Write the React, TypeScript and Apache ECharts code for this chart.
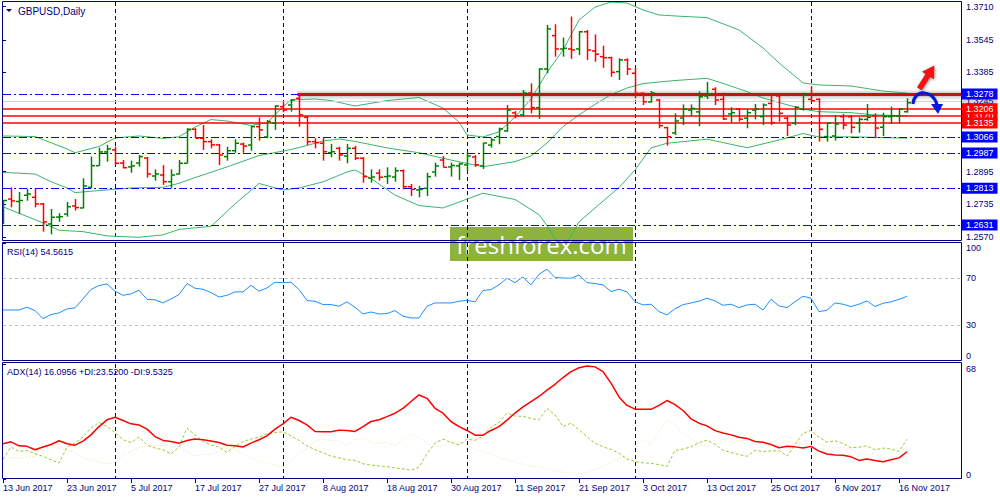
import React, { useEffect, useRef } from "react";
import * as echarts from "echarts";

const NAVY = "#000080";
const FONT = "Liberation Sans";
const X_MAX = 119.75;
const UP = "#008000";
const DOWN = "#FF0000";

// Date tick labels (every 8 trading days, starting at bar 0)
const tickLabels = [
  "13 Jun 2017", "23 Jun 2017", "5 Jul 2017", "17 Jul 2017", "27 Jul 2017",
  "8 Aug 2017", "18 Aug 2017", "30 Aug 2017", "11 Sep 2017", "21 Sep 2017",
  "3 Oct 2017", "13 Oct 2017", "25 Oct 2017", "6 Nov 2017", "16 Nov 2017",
];
const tickEvery = 8;
// first bar of each month (Jul, Aug, Sep, Oct, Nov)
const monthStarts = [14, 35, 58, 79, 101];

const priceTicks = [1.371, 1.3545, 1.3385, 1.2895, 1.2735, 1.257];
const priceMin = 1.25567;
const priceMax = 1.37332;
const blueLevels = [1.3278, 1.3066, 1.2987, 1.2813, 1.2631];
const redLevels = [1.317, 1.3206, 1.3135];
const greyLevel = 1.3245;
const resistance = 1.3278;
const resistanceStart = 36.8;
const rsiLevels = [30, 70];
const rsiTicks = [0, 30, 70, 100];
const adxTicks = [0, 68];

// OHLC: [open, high, low, close]
const ohlc = [
  [1.2695, 1.2755, 1.2636, 1.2752], [1.2759, 1.2817, 1.2718, 1.2750], [1.2747, 1.2794, 1.2685, 1.2752],
  [1.2778, 1.2810, 1.2751, 1.2784], [1.2768, 1.2812, 1.2718, 1.2735], [1.2735, 1.2740, 1.2598, 1.2646],
  [1.2636, 1.2710, 1.2585, 1.2669], [1.2670, 1.2689, 1.2647, 1.2672], [1.2685, 1.2745, 1.2672, 1.2721],
  [1.2725, 1.2759, 1.2702, 1.2717], [1.2715, 1.2862, 1.2714, 1.2824], [1.2817, 1.2969, 1.2812, 1.2924],
  [1.2924, 1.3013, 1.2924, 1.2992], [1.2992, 1.3027, 1.2944, 1.3007], [1.3002, 1.3018, 1.2927, 1.2936],
  [1.2937, 1.2952, 1.2911, 1.2914], [1.2918, 1.2949, 1.2889, 1.2923], [1.2937, 1.2977, 1.2919, 1.2969],
  [1.2962, 1.2967, 1.2865, 1.2883], [1.2873, 1.2906, 1.2850, 1.2883], [1.2878, 1.2927, 1.2829, 1.2845],
  [1.2845, 1.2906, 1.2812, 1.2878], [1.2883, 1.2952, 1.2881, 1.2936], [1.2936, 1.3109, 1.2936, 1.3104],
  [1.3104, 1.3109, 1.3060, 1.3060], [1.3060, 1.3125, 1.3002, 1.3043], [1.3043, 1.3055, 1.3010, 1.3027],
  [1.3027, 1.3030, 1.2927, 1.2977], [1.2969, 1.3018, 1.2949, 1.2998], [1.2998, 1.3055, 1.2988, 1.3035],
  [1.3031, 1.3038, 1.2988, 1.3021], [1.3026, 1.3120, 1.2998, 1.3117], [1.3117, 1.3163, 1.3048, 1.3101],
  [1.3066, 1.3150, 1.3060, 1.3142], [1.3134, 1.3224, 1.3101, 1.3219], [1.3216, 1.3240, 1.3188, 1.3199],
  [1.3224, 1.3252, 1.3191, 1.3249], [1.3257, 1.3269, 1.3117, 1.3175], [1.3163, 1.3170, 1.3026, 1.3043],
  [1.3043, 1.3060, 1.3010, 1.3038], [1.3035, 1.3060, 1.2949, 1.2993], [1.2988, 1.3031, 1.2966, 1.2993],
  [1.3010, 1.3018, 1.2949, 1.2977], [1.2972, 1.3031, 1.2936, 1.3010], [1.3010, 1.3022, 1.2952, 1.2961],
  [1.2961, 1.2966, 1.2840, 1.2870], [1.2863, 1.2906, 1.2840, 1.2868], [1.2887, 1.2906, 1.2850, 1.2867],
  [1.2870, 1.2916, 1.2834, 1.2873], [1.2868, 1.2916, 1.2845, 1.2899], [1.2899, 1.2906, 1.2807, 1.2820],
  [1.2820, 1.2834, 1.2774, 1.2807], [1.2804, 1.2824, 1.2768, 1.2807], [1.2812, 1.2889, 1.2774, 1.2870],
  [1.2893, 1.2939, 1.2870, 1.2923], [1.2952, 1.2972, 1.2916, 1.2916], [1.2918, 1.2939, 1.2870, 1.2925],
  [1.2923, 1.2939, 1.2853, 1.2933], [1.2928, 1.2993, 1.2899, 1.2972], [1.2967, 1.2977, 1.2918, 1.2928],
  [1.2923, 1.3038, 1.2908, 1.3036], [1.3026, 1.3062, 1.3013, 1.3051], [1.3068, 1.3112, 1.3030, 1.3106],
  [1.3096, 1.3224, 1.3092, 1.3199], [1.3185, 1.3194, 1.3158, 1.3171], [1.3175, 1.3298, 1.3166, 1.3283],
  [1.3283, 1.3331, 1.3183, 1.3211], [1.3211, 1.3406, 1.3155, 1.3402], [1.3402, 1.3620, 1.3381, 1.3600],
  [1.3567, 1.3623, 1.3463, 1.3501], [1.3501, 1.3557, 1.3463, 1.3504], [1.3501, 1.3661, 1.3452, 1.3496],
  [1.3501, 1.3590, 1.3471, 1.3586], [1.3586, 1.3595, 1.3447, 1.3496], [1.3491, 1.3573, 1.3438, 1.3475],
  [1.3463, 1.3517, 1.3408, 1.3458], [1.3458, 1.3463, 1.3364, 1.3386], [1.3389, 1.3455, 1.3348, 1.3447],
  [1.3447, 1.3455, 1.3372, 1.3402], [1.3381, 1.3406, 1.3257, 1.3282], [1.3282, 1.3287, 1.3224, 1.3240],
  [1.3239, 1.3293, 1.3237, 1.3283], [1.3249, 1.3254, 1.3109, 1.3122], [1.3112, 1.3117, 1.3023, 1.3067],
  [1.3086, 1.3183, 1.3076, 1.3145], [1.3160, 1.3227, 1.3125, 1.3204], [1.3199, 1.3227, 1.3171, 1.3207],
  [1.3190, 1.3291, 1.3119, 1.3265], [1.3269, 1.3338, 1.3254, 1.3279], [1.3302, 1.3312, 1.3224, 1.3249],
  [1.3252, 1.3285, 1.3150, 1.3155], [1.3180, 1.3213, 1.3137, 1.3186], [1.3203, 1.3208, 1.3142, 1.3154],
  [1.3159, 1.3203, 1.3109, 1.3186], [1.3199, 1.3229, 1.3153, 1.3203], [1.3166, 1.3232, 1.3125, 1.3224],
  [1.3232, 1.3273, 1.3125, 1.3137], [1.3269, 1.3273, 1.3142, 1.3183], [1.3159, 1.3166, 1.3071, 1.3125],
  [1.3134, 1.3219, 1.3125, 1.3213], [1.3203, 1.3285, 1.3196, 1.3273], [1.3252, 1.3318, 1.3240, 1.3245],
  [1.3252, 1.3257, 1.3043, 1.3104], [1.3068, 1.3137, 1.3043, 1.3134], [1.3071, 1.3175, 1.3048, 1.3130],
  [1.3166, 1.3180, 1.3104, 1.3125], [1.3166, 1.3175, 1.3084, 1.3114], [1.3134, 1.3163, 1.3087, 1.3153],
  [1.3153, 1.3229, 1.3146, 1.3163], [1.3170, 1.3183, 1.3060, 1.3110], [1.3114, 1.3186, 1.3071, 1.3166],
  [1.3166, 1.3216, 1.3130, 1.3170], [1.3170, 1.3208, 1.3134, 1.3203], [1.3191, 1.3257, 1.3186, 1.3235],
];

// Bollinger bands: [bar index, price]
const bbUpper = [
  [0, 1.3071], [4, 1.3068], [8, 1.3007], [9, 1.2988], [12, 1.3019], [14, 1.3061], [17, 1.3071],
  [20, 1.3059], [22, 1.3067], [24, 1.3115], [26, 1.3152], [28, 1.3145], [31, 1.3123], [33, 1.3135],
  [35, 1.3216], [36, 1.3249], [39, 1.3254], [41, 1.3246], [44, 1.3219], [48, 1.3246], [52, 1.3261],
  [55, 1.3209], [57, 1.3140], [58, 1.3076], [60, 1.3066], [62, 1.3091], [64, 1.3165], [66, 1.3254],
  [68, 1.3385], [70, 1.3496], [72, 1.3644], [74, 1.3708], [76, 1.3733], [78, 1.3728], [80, 1.3694],
  [82, 1.3669], [85, 1.3662], [88, 1.3656], [92, 1.3595], [95, 1.3506], [97, 1.3432], [100, 1.3333],
  [102, 1.3323], [106, 1.3318], [110, 1.3293], [113, 1.3283],
];
const bbMiddle = [
  [0, 1.2891], [4, 1.2883], [6, 1.2845], [8, 1.2814], [9, 1.2791], [12, 1.2801], [16, 1.2814],
  [20, 1.2817], [22, 1.2837], [24, 1.2865], [28, 1.2918], [32, 1.2974], [36, 1.3004], [38, 1.3024],
  [40, 1.3046], [42, 1.3056], [44, 1.3044], [48, 1.3012], [52, 1.2988], [56, 1.2952], [60, 1.2919],
  [64, 1.2944], [66, 1.2972], [68, 1.3036], [70, 1.3117], [72, 1.3175], [74, 1.3227], [76, 1.3276],
  [78, 1.3308], [80, 1.3330], [84, 1.3345], [88, 1.3356], [90, 1.3331], [93, 1.3290], [95, 1.3259],
  [100, 1.3203], [102, 1.3191], [106, 1.3186], [109, 1.3175], [113, 1.3170],
];
const bbLower = [
  [0, 1.2721], [3, 1.2673], [5, 1.2641], [7, 1.2605], [10, 1.2598], [13, 1.2577], [17, 1.2570],
  [20, 1.2582], [22, 1.2609], [26, 1.2624], [29, 1.2735], [32, 1.2836], [35, 1.2804], [37, 1.2814],
  [40, 1.2844], [43, 1.2893], [44, 1.2903], [46, 1.2861], [49, 1.2779], [52, 1.2727], [55, 1.2715],
  [58, 1.2759], [60, 1.2788], [64, 1.2757], [67, 1.2682], [68, 1.2628], [70, 1.2507], [72, 1.2646],
  [74, 1.2715], [77, 1.2816], [79, 1.2903], [81, 1.3012], [83, 1.3035], [88, 1.3055], [93, 1.3013],
  [97, 1.3051], [100, 1.3083], [102, 1.3066], [106, 1.3067], [113, 1.3060],
];

const rsi = [
  43.0, 43.0, 43.0, 45.3, 42.5, 35.7, 39.1, 40.5, 43.9, 44.8,
  52.5, 60.5, 63.8, 65.2, 58.9, 55.5, 56.7, 59.8, 52.1, 51.6,
  49.0, 52.4, 56.1, 65.5, 61.5, 60.6, 57.8, 54.0, 55.5, 58.4,
  58.4, 64.0, 58.9, 61.8, 66.6, 66.2, 66.6, 60.4, 51.0, 50.4,
  47.6, 47.6, 46.2, 49.9, 45.3, 39.6, 41.3, 39.6, 39.9, 42.5,
  37.7, 36.2, 36.2, 46.2, 49.0, 49.0, 49.0, 50.4, 51.3, 49.9,
  59.5, 60.4, 64.5, 70.0, 66.3, 71.1, 64.3, 73.4, 77.7, 70.6,
  70.2, 70.0, 72.8, 66.3, 65.5, 64.3, 58.7, 60.6, 58.4, 50.1,
  47.3, 47.9, 41.6, 38.8, 44.0, 47.5, 49.0, 50.5, 53.0, 50.7,
  47.0, 47.9, 45.0, 47.3, 47.9, 43.0, 52.1, 46.5, 45.0, 50.1,
  54.7, 53.0, 41.6, 42.8, 49.0, 47.9, 45.9, 47.9, 50.7, 45.9,
  48.7, 49.9, 52.1, 54.56,
];
const adx = [
  20.8, 22.0, 19.6, 19.3, 17.3, 18.9, 20.4, 22.6, 20.8, 20.0,
  22.4, 26.1, 31.0, 35.0, 36.5, 34.6, 32.6, 32.0, 29.5, 25.1,
  22.8, 22.2, 21.2, 22.8, 23.6, 23.2, 22.5, 21.6, 20.0, 19.6,
  18.9, 21.2, 23.2, 25.5, 29.5, 32.6, 36.5, 34.6, 32.0, 28.1,
  27.9, 27.9, 28.9, 28.7, 28.1, 31.0, 34.0, 35.0, 36.9, 38.9,
  41.8, 45.8, 49.7, 47.7, 41.8, 38.9, 34.0, 31.0, 28.7, 25.9,
  25.9, 28.7, 31.0, 34.8, 39.0, 42.6, 45.8, 48.8, 52.5, 56.0,
  60.0, 63.5, 65.8, 66.8, 66.3, 63.5, 56.7, 48.5, 43.5, 41.3,
  41.3, 41.2, 43.5, 46.4, 44.0, 40.5, 35.6, 33.0, 31.4, 28.6,
  27.2, 26.1, 24.7, 24.0, 22.2, 21.7, 20.4, 18.5, 19.4, 19.0,
  18.3, 19.3, 16.5, 14.8, 14.2, 14.1, 13.1, 11.0, 11.8, 11.0,
  10.2, 11.4, 12.5, 16.1,
];
const plusDI = [
  11.8, 18.9, 16.3, 16.9, 14.9, 13.4, 11.4, 9.4, 18.9, 21.2,
  24.8, 30.1, 33.4, 31.0, 27.5, 23.2, 21.6, 24.8, 20.2, 18.3,
  17.3, 14.9, 18.9, 30.1, 26.1, 22.2, 20.2, 18.9, 15.7, 19.3,
  22.2, 23.6, 24.8, 26.7, 27.5, 27.9, 25.5, 22.8, 19.6, 17.3,
  15.5, 13.5, 12.5, 11.4, 11.0, 9.0, 8.2, 7.7, 7.3, 6.5,
  6.0, 5.2, 7.0, 15.0, 21.2, 23.6, 21.6, 20.2, 23.6, 22.8,
  25.5, 30.5, 33.5, 38.9, 37.2, 37.0, 35.8, 35.0, 41.8, 37.9,
  31.0, 33.0, 29.1, 25.0, 21.2, 19.0, 17.5, 15.3, 11.8, 10.4,
  9.6, 9.2, 8.5, 7.5, 16.9, 17.7, 19.0, 21.5, 23.0, 20.5,
  17.0, 15.7, 14.5, 13.4, 16.9, 16.3, 16.6, 16.9, 13.5, 20.2,
  27.1, 28.7, 24.8, 21.8, 22.6, 21.0, 18.5, 18.8, 19.6, 17.2,
  18.3, 17.7, 16.3, 23.52,
];
const minusDI = [
  11.4, 13.0, 11.8, 13.0, 13.4, 21.0, 20.5, 17.9, 17.2, 15.5,
  12.6, 11.0, 9.9, 8.8, 9.8, 14.3, 16.2, 18.9, 19.4, 19.8,
  19.8, 19.4, 19.0, 16.0, 13.4, 14.6, 14.5, 16.6, 18.4, 17.3,
  14.8, 12.5, 10.5, 9.4, 8.1, 7.0, 10.0, 15.0, 17.8, 22.6,
  23.5, 22.8, 22.8, 19.5, 23.5, 23.9, 21.8, 21.0, 21.6, 19.5,
  23.2, 26.4, 24.5, 21.0, 19.0, 19.5, 22.5, 21.8, 20.3, 17.8,
  16.1, 14.8, 12.5, 11.5, 9.9, 8.8, 7.9, 7.0, 6.0, 4.8,
  4.0, 3.7, 3.1, 4.0, 5.5, 7.5, 10.0, 12.4, 13.5, 18.5,
  23.2, 20.5, 28.0, 35.0, 32.0, 27.0, 23.8, 21.0, 19.3, 19.3,
  23.5, 21.5, 22.6, 23.0, 20.8, 21.6, 22.0, 24.0, 25.5, 23.2,
  20.5, 23.0, 20.8, 19.4, 18.4, 18.8, 17.7, 15.0, 14.3, 15.5,
  13.8, 12.0, 10.8, 9.53,
];

const symbolName = "GBPUSD,Daily";
const rsiTitle = "RSI(14) 54.5615";
const adxTitle = "ADX(14) 16.0956 +DI:23.5200 -DI:9.5325";
const watermark = "freshforex.com";

function vLines(g: number) {
  return {
    type: "custom",
    xAxisIndex: g,
    yAxisIndex: g,
    silent: true,
    z: 1,
    data: monthStarts.map((m) => [m, 0]),
    renderItem: (params: any, api: any) => {
      const cs = params.coordSys;
      const x = Math.round(api.coord([api.value(0), api.value(1)])[0]) + 0.5;
      return {
        type: "line",
        shape: { x1: x, y1: cs.y, x2: x, y2: cs.y + cs.height },
        style: { stroke: NAVY, lineWidth: 1, lineDash: [4, 3] },
      };
    },
  };
}

function lvlLabel(bg: string, fg: string) {
  return {
    show: true,
    position: "end",
    distance: 1,
    backgroundColor: bg,
    color: fg,
    padding: [1, 4, 0, 4],
    fontSize: 9,
    lineHeight: 10,
    fontFamily: FONT,
    formatter: (p: any) => Number(p.value).toFixed(4),
  };
}

function buildOption(): any {
  const hiddenX = (g: number) => ({ type: "value", gridIndex: g, min: 0, max: X_MAX, show: false });
  const dateTicks = tickLabels.map((_, k) => k * tickEvery);
  const lineSeries = (name: string, data: any[], g: number, color: string, width: number, dash: any, z = 3) => ({
    name,
    type: "line",
    xAxisIndex: g,
    yAxisIndex: g,
    data,
    symbol: "none",
    showSymbol: false,
    silent: true,
    z,
    lineStyle: { color, width, type: dash },
  });

  const levelMarks: any[] = [
    { yAxis: greyLevel, lineStyle: { color: "#D3D3D3", width: 1, type: "solid" }, label: lvlLabel("#D8D8D8", NAVY) },
    ...redLevels.map((v) => ({ yAxis: v, lineStyle: { color: "#FF0000", width: 1.5, type: "solid" }, label: lvlLabel("#FF0000", "#FFFFFF") })),
    ...blueLevels.map((v) => ({ yAxis: v, lineStyle: { color: "#0000FF", width: 1, type: [8, 3, 2, 3] }, label: lvlLabel("#0000FF", "#FFFFFF") })),
    [
      { coord: [resistanceStart, resistance], lineStyle: { color: "#CC1010", width: 3, type: "solid" }, label: { show: false } },
      { coord: [X_MAX, resistance] },
    ],
  ];

  const redArrow = [
    [921.6, 89.85], [930.1, 76.6], [933.5, 78.8], [934, 66], [922.5, 71.7], [925.9, 73.9], [917.4, 87.15],
  ];

  return {
    animation: false,
    backgroundColor: "#FFFFFF",
    grid: [
      { left: 3, top: 2, width: 958, height: 238 },
      { left: 3, top: 243, width: 958, height: 117.5 },
      { left: 3, top: 364, width: 958, height: 115 },
    ],
    xAxis: [
      hiddenX(0),
      hiddenX(1),
      {
        type: "value",
        gridIndex: 2,
        min: 0,
        max: X_MAX,
        axisLine: { show: false },
        axisTick: { show: true, customValues: dateTicks, length: 4, lineStyle: { color: NAVY } },
        axisLabel: {
          show: true,
          customValues: dateTicks,
          align: "left",
          margin: 4,
          color: NAVY,
          fontSize: 9,
          fontFamily: FONT,
          formatter: (v: number) => tickLabels[Math.round(v / tickEvery)] ?? "",
        },
        splitLine: { show: false },
      },
    ],
    yAxis: [
      {
        type: "value",
        gridIndex: 0,
        position: "right",
        min: priceMin,
        max: priceMax,
        axisLine: { show: false },
        axisTick: { show: true, customValues: priceTicks, length: 3, lineStyle: { color: NAVY } },
        axisLabel: {
          customValues: priceTicks,
          margin: 5,
          color: NAVY,
          fontSize: 9,
          fontFamily: FONT,
          formatter: (v: number) => v.toFixed(4),
        },
        splitLine: { show: false },
      },
      {
        type: "value",
        gridIndex: 1,
        position: "right",
        min: 0,
        max: 100,
        axisLine: { show: false },
        axisTick: { show: true, customValues: rsiTicks, length: 3, lineStyle: { color: NAVY } },
        axisLabel: {
          customValues: rsiTicks,
          margin: 5,
          color: NAVY,
          fontSize: 9,
          fontFamily: FONT,
          verticalAlignMinLabel: "bottom",
          verticalAlignMaxLabel: "top",
        },
        splitLine: { show: false },
      },
      {
        type: "value",
        gridIndex: 2,
        position: "right",
        min: 0,
        max: 68,
        axisLine: { show: false },
        axisTick: { show: true, customValues: adxTicks, length: 3, lineStyle: { color: NAVY } },
        axisLabel: {
          customValues: adxTicks,
          margin: 5,
          color: NAVY,
          fontSize: 9,
          fontFamily: FONT,
          verticalAlignMinLabel: "bottom",
          verticalAlignMaxLabel: "top",
        },
        splitLine: { show: false },
      },
    ],
    series: [
      vLines(0),
      vLines(1),
      vLines(2),
      {
        name: "levels",
        type: "line",
        xAxisIndex: 0,
        yAxisIndex: 0,
        data: [],
        silent: true,
        z: 2,
        markArea: {
          silent: true,
          data: [
            [
              {
                coord: [resistanceStart, 1.3303],
                itemStyle: {
                  color: new echarts.graphic.LinearGradient(0, 0, 0, 1, [
                    { offset: 0, color: "rgba(200,200,200,0)" },
                    { offset: 0.3, color: "rgba(175,175,175,0.55)" },
                    { offset: 0.45, color: "rgba(150,150,150,0.8)" },
                    { offset: 0.65, color: "rgba(190,190,190,0.6)" },
                    { offset: 1, color: "rgba(230,230,230,0)" },
                  ]),
                },
              },
              { coord: [X_MAX, 1.3243] },
            ],
          ],
        },
        markLine: { silent: true, symbol: ["none", "none"], precision: 4, animation: false, data: levelMarks },
      },
      lineSeries("BB upper", bbUpper, 0, "#3CB371", 1, "solid"),
      lineSeries("BB middle", bbMiddle, 0, "#3CB371", 1, "solid"),
      lineSeries("BB lower", bbLower, 0, "#3CB371", 1, "solid"),
      {
        name: "GBPUSD",
        type: "custom",
        xAxisIndex: 0,
        yAxisIndex: 0,
        silent: true,
        clip: true,
        z: 5,
        data: ohlc.map((d, i) => [i, d[0], d[1], d[2], d[3]]),
        encode: { x: 0, y: [1, 2, 3, 4] },
        renderItem: (params: any, api: any) => {
          const i = api.value(0);
          const o = api.value(1), h = api.value(2), l = api.value(3), c = api.value(4);
          const pH = api.coord([i, h]);
          const pL = api.coord([i, l]);
          const pO = api.coord([i, o]);
          const pC = api.coord([i, c]);
          const col = c >= o ? UP : DOWN;
          const x = Math.round(pH[0]) + 0.5;
          const st = { stroke: col, lineWidth: 1.5 };
          return {
            type: "group",
            children: [
              { type: "line", shape: { x1: x, y1: pH[1], x2: x, y2: pL[1] }, style: st },
              { type: "line", shape: { x1: x - 3.5, y1: pO[1], x2: x, y2: pO[1] }, style: st },
              { type: "line", shape: { x1: x, y1: pC[1], x2: x + 3.5, y2: pC[1] }, style: st },
            ],
          };
        },
      },
      {
        ...lineSeries("RSI", rsi.map((v, i) => [i, v]), 1, "#1E90FF", 1, "solid"),
        markLine: {
          silent: true,
          symbol: ["none", "none"],
          label: { show: false },
          lineStyle: { color: "#C0C0C0", type: [3, 3], width: 1 },
          data: rsiLevels.map((v) => ({ yAxis: v })),
        },
      },
      lineSeries("-DI", minusDI.map((v, i) => [i, v]), 2, "#F5DEB3", 1, [1, 2]),
      lineSeries("+DI", plusDI.map((v, i) => [i, v]), 2, "#9ACD32", 1, [3, 2]),
      lineSeries("ADX", adx.map((v, i) => [i, v]), 2, "#FF0000", 1.5, "solid", 4),
    ],
    graphic: [
      { type: "rect", z: 100, silent: true, shape: { x: 2.5, y: 1.5, width: 959, height: 239 }, style: { fill: "none", stroke: NAVY, lineWidth: 1 } },
      { type: "rect", z: 100, silent: true, shape: { x: 2.5, y: 242.5, width: 959, height: 118 }, style: { fill: "none", stroke: NAVY, lineWidth: 1 } },
      { type: "rect", z: 100, silent: true, shape: { x: 2.5, y: 362.5, width: 959, height: 116 }, style: { fill: "none", stroke: NAVY, lineWidth: 1 } },
      { type: "polygon", z: 100, silent: true, shape: { points: [[6, 9], [12, 9], [9, 12]] }, style: { fill: NAVY } },
      { type: "text", z: 100, silent: true, style: { text: symbolName, x: 18, y: 11, fill: NAVY, font: `10px "${FONT}"`, verticalAlign: "middle" } },
      { type: "text", z: 100, silent: true, style: { text: rsiTitle, x: 7, y: 252, fill: NAVY, font: `9px "${FONT}"`, verticalAlign: "middle" } },
      { type: "text", z: 100, silent: true, style: { text: adxTitle, x: 7, y: 372, fill: NAVY, font: `9px "${FONT}"`, verticalAlign: "middle" } },
      {
        type: "group",
        z: 110,
        silent: true,
        children: [
          { type: "rect", shape: { x: 450, y: 227, width: 183, height: 34 }, style: { fill: "#8DB33C" } },
          { type: "text", style: { text: watermark, x: 541.5, y: 244, fill: "#FFFFFF", font: `24px "Open Sans"`, align: "center", verticalAlign: "middle" } },
        ],
      },
      {
        type: "polygon",
        z: 105,
        silent: true,
        shape: { points: redArrow },
        style: { fill: "#FF1010", stroke: "#B00000", lineWidth: 0.5, shadowBlur: 3, shadowColor: "rgba(0,0,0,0.45)", shadowOffsetX: 1, shadowOffsetY: 1 },
      },
      {
        type: "bezierCurve",
        z: 105,
        silent: true,
        shape: { x1: 913, y1: 104, cpx1: 914, cpy1: 89, cpx2: 933, cpy2: 89, x2: 937, y2: 105 },
        style: { stroke: "#0018E0", lineWidth: 3, fill: "none", shadowBlur: 2, shadowColor: "rgba(0,0,0,0.3)" },
      },
      {
        type: "polygon",
        z: 105,
        silent: true,
        shape: { points: [[931, 104], [943, 104], [938, 114]] },
        style: { fill: "#0018E0" },
      },
    ],
  };
}

export default function App() {
  const ref = useRef<HTMLDivElement>(null);
  useEffect(() => {
    if (!ref.current) return;
    const chart = echarts.init(ref.current, null, { renderer: "svg" });
    chart.setOption(buildOption());
    return () => chart.dispose();
  }, []);
  return (
    <div
      ref={ref}
      style={{ position: "fixed", left: 0, top: 0, width: 1000, height: 500, background: "#FFFFFF" }}
    />
  );
}
